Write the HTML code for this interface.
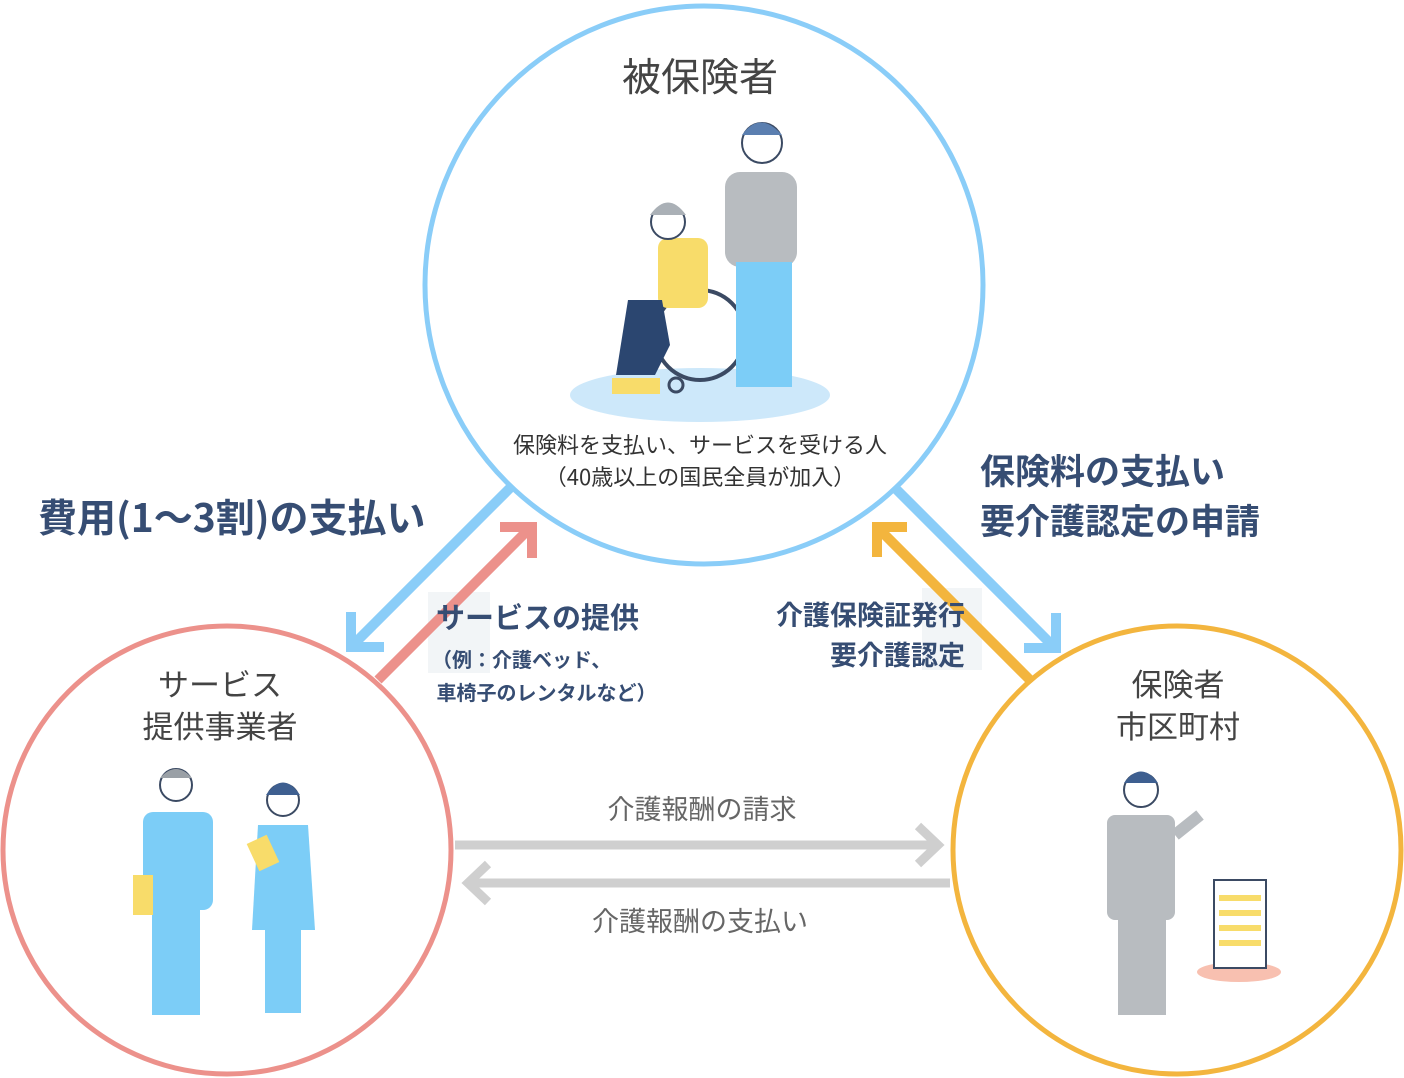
<!DOCTYPE html>
<html><head><meta charset="utf-8"><style>
html,body{margin:0;padding:0;background:#fff}
body{width:1404px;height:1078px;position:relative;overflow:hidden;font-family:"Noto Sans CJK JP","Liberation Sans",sans-serif;color:#364d73}
.t{position:absolute;white-space:nowrap}
.c{position:absolute;text-align:center;white-space:nowrap}
</style></head><body>
<svg width="1404" height="1078" style="position:absolute;left:0;top:0">
<rect x="428" y="592" width="62" height="81" fill="#f2f5f7"/>
<rect x="922" y="588" width="60" height="82" fill="#f2f5f7"/>
<g fill="none" stroke-width="10" stroke-linecap="butt">
<path d="M510 488 L356 642" stroke="#8acdf8"/><path d="M351 612 V647 H384" stroke="#8acdf8"/>
<path d="M378 680 L527 531" stroke="#ec918b"/><path d="M500 527 H532 V558" stroke="#ec918b"/>
<path d="M1030 680 L880 530" stroke="#f3b53e"/><path d="M907 527 H877 V557" stroke="#f3b53e"/>
<path d="M895 488 L1052 645" stroke="#8acdf8"/><path d="M1056 613 V648 H1024" stroke="#8acdf8"/>
<path d="M455 845 H938" stroke="#cfcfcf" stroke-width="9"/><path d="M918 826 L938 845 L918 864" stroke="#cfcfcf" stroke-width="9"/>
<path d="M950 883 H470" stroke="#cfcfcf" stroke-width="9"/><path d="M488 864 L468 883 L488 902" stroke="#cfcfcf" stroke-width="9"/>
</g>
<circle cx="704" cy="285" r="279" fill="none" stroke="#8acdf8" stroke-width="5"/>
<circle cx="227" cy="850" r="224" fill="none" stroke="#ec918b" stroke-width="5"/>
<circle cx="1177" cy="850" r="224" fill="none" stroke="#f3b53e" stroke-width="5"/>
<ellipse cx="700" cy="395" rx="130" ry="27" fill="#cde8fa"/>
<circle cx="700" cy="335" r="45" fill="none" stroke="#3b4a63" stroke-width="4"/>
<rect x="725" y="172" width="72" height="95" rx="15" fill="#b8bcc0"/>
<rect x="736" y="262" width="56" height="125" fill="#7ccdf7"/>
<circle cx="762" cy="143" r="20" fill="#fff" stroke="#3b4a63" stroke-width="2"/>
<path d="M742 135 Q760 110 782 135" fill="#5b7fb0"/>
<rect x="658" y="238" width="50" height="70" rx="10" fill="#f8dc6a"/>
<path d="M628 300 L662 300 L670 345 L655 375 L616 375 Z" fill="#2b4670"/>
<circle cx="668" cy="222" r="17" fill="#fff" stroke="#3b4a63" stroke-width="2"/>
<path d="M650 215 Q668 190 686 215" fill="#aab0b6"/>
<rect x="612" y="378" width="48" height="16" fill="#f8dc6a"/>
<circle cx="676" cy="385" r="7" fill="none" stroke="#3b4a63" stroke-width="3"/>
<circle cx="176" cy="785" r="16" fill="#fff" stroke="#3b4a63" stroke-width="2"/>
<path d="M160 778 Q176 760 192 778" fill="#9aa0a6"/>
<rect x="143" y="812" width="70" height="98" rx="10" fill="#7ccdf7"/>
<rect x="152" y="905" width="48" height="110" fill="#7ccdf7"/>
<rect x="133" y="875" width="20" height="40" fill="#f8dc6a"/>
<circle cx="283" cy="800" r="16" fill="#fff" stroke="#3b4a63" stroke-width="2"/>
<path d="M266 795 Q283 770 300 795" fill="#3e5f90"/>
<path d="M258 825 H308 L315 930 H252 Z" fill="#7ccdf7"/>
<rect x="265" y="928" width="36" height="85" fill="#7ccdf7"/>
<rect x="252" y="838" width="22" height="30" fill="#f8dc6a" transform="rotate(-25 263 853)"/>
<circle cx="1141" cy="790" r="17" fill="#fff" stroke="#3b4a63" stroke-width="2"/>
<path d="M1124 783 Q1141 760 1158 783" fill="#3e5f90"/>
<rect x="1107" y="815" width="68" height="105" rx="8" fill="#b8bcc0"/>
<rect x="1118" y="915" width="48" height="100" fill="#b8bcc0"/>
<path d="M1175 835 L1200 815" stroke="#b8bcc0" stroke-width="12"/>
<ellipse cx="1239" cy="972" rx="42" ry="10" fill="#f8c0b0"/>
<rect x="1214" y="880" width="52" height="88" fill="#fff" stroke="#3b4a63" stroke-width="2"/>
<g fill="#f8dc6a"><rect x="1219" y="895" width="42" height="6"/><rect x="1219" y="910" width="42" height="6"/><rect x="1219" y="925" width="42" height="6"/><rect x="1219" y="940" width="42" height="6"/></g>
</svg>
<div class="c" style="left:500px;width:400px;top:50px;font-size:39px;line-height:50px;color:#444">被保険者</div>
<div class="c" style="left:450px;width:500px;top:428px;font-size:22px;line-height:32px;color:#333">保険料を支払い、サービスを受ける人<br>（40歳以上の国民全員が加入）</div>
<div class="t" style="left:38px;top:490px;font-size:39px;line-height:52px;font-weight:bold">費用(1～3割)の支払い</div>
<div class="t" style="left:980px;top:445px;font-size:35px;font-weight:bold;line-height:50px">保険料の支払い<br>要介護認定の申請</div>
<div class="t" style="left:436px;top:595px;font-size:29px;line-height:42px;font-weight:bold">サービスの提供</div>
<div class="t" style="left:432px;top:642px;font-size:20px;font-weight:bold;line-height:33px">（例：介護ベッド、<br>&nbsp;車椅子のレンタルなど）</div>
<div class="t" style="left:776px;top:594px;font-size:27px;font-weight:bold;line-height:40px;text-align:right">介護保険証発行<br>要介護認定</div>
<div class="c" style="left:70px;width:300px;top:662px;font-size:31px;color:#444;line-height:42px">サービス<br>提供事業者</div>
<div class="c" style="left:1028px;width:300px;top:662px;font-size:31px;color:#444;line-height:42px">保険者<br>市区町村</div>
<div class="c" style="left:552px;width:300px;top:790px;font-size:27px;line-height:36px;color:#666">介護報酬の請求</div>
<div class="c" style="left:550px;width:300px;top:902px;font-size:27px;line-height:36px;color:#666">介護報酬の支払い</div>
</body></html>
